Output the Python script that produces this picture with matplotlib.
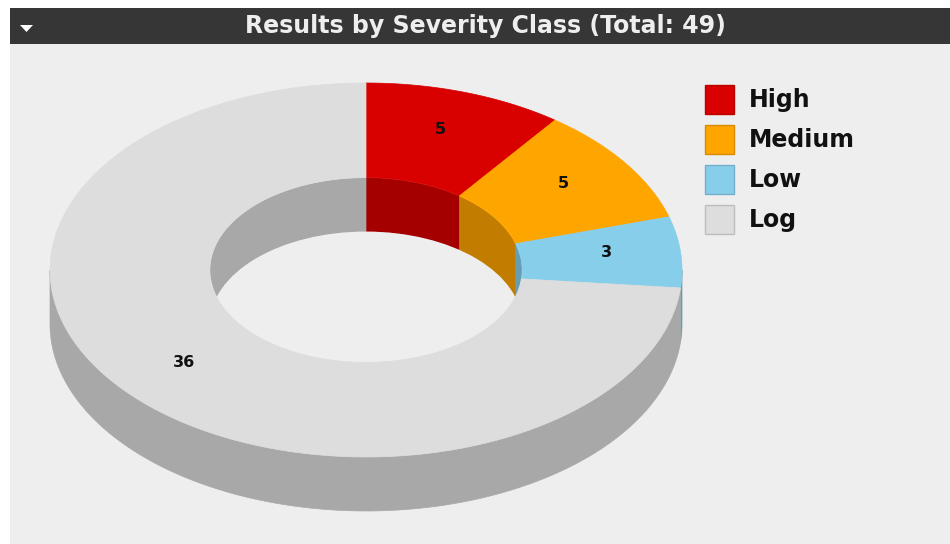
import numpy as np
import matplotlib
matplotlib.use('Agg')
import matplotlib.pyplot as plt
from matplotlib.patches import Polygon, Rectangle, Ellipse

# data
labels = ['High', 'Medium', 'Low', 'Log']
counts = [5, 5, 3, 36]
colors = ['#d90000', '#ffa500', '#87ceeb', '#dddddd']
title = 'Results by Severity Class (Total: 49)'

# geometry of the 3d donut (pixels)
cx, cy = 366, 270
rx, ry = 316, 187
depth = 54
rin = 0.494
bg = '#eeeeee'


def darker(c, f=0.76):
    r, g, b = matplotlib.colors.to_rgb(c)
    return (r * f, g * f, b * f)


def arc(a, b, r, dy=0, n=120):
    t = np.radians(np.linspace(a, b, n))
    return np.column_stack([cx + rx * r * np.cos(t), cy - ry * r * np.sin(t) + dy])


def overlap(a, b, intervals):
    res = []
    for lo, hi in intervals:
        l, h = max(a, lo), min(b, hi)
        if h > l:
            res.append((l, h))
    return res


fig = plt.figure(figsize=(9.5, 5.44), dpi=100)
ax = fig.add_axes([0, 0, 1, 1])
ax.set_xlim(0, 950)
ax.set_ylim(544, 0)
ax.axis('off')

ax.add_patch(Rectangle((10, 44), 940, 500, facecolor=bg, edgecolor='none'))

total = sum(counts)
start = 90.0
spans = []
for v in counts:
    end = start - 360.0 * v / total
    spans.append((end, start))
    start = end

inner_clip = Ellipse((cx, cy), 2 * rx * rin, 2 * ry * rin, transform=ax.transData)

for (a, b), c in zip(spans, colors):
    dc = darker(c)
    # outer side wall, front half
    for l, h in overlap(a, b, [(-180, 0)]):
        p = np.vstack([arc(l, h, 1), arc(h, l, 1, depth)])
        ax.add_patch(Polygon(p, closed=True, facecolor=dc, edgecolor=dc, lw=0.5))
    # inner wall, back half
    for l, h in overlap(a, b, [(0, 180), (-360, -180)]):
        p = np.vstack([arc(l, h, rin), arc(h, l, rin, depth)])
        wall = Polygon(p, closed=True, facecolor=dc, edgecolor=dc, lw=0.5)
        ax.add_patch(wall)
        wall.set_clip_path(inner_clip)

hole = Ellipse((cx, cy + depth), 2 * rx * rin, 2 * ry * rin, facecolor=bg, edgecolor='none')
ax.add_patch(hole)
hole.set_clip_path(inner_clip)

# top face
for (a, b), c, v in zip(spans, colors, counts):
    p = np.vstack([arc(a, b, 1), arc(b, a, rin)])
    ax.add_patch(Polygon(p, closed=True, facecolor=c, edgecolor=c, lw=0.5))
    m = np.radians((a + b) / 2)
    lr = 0.77
    ax.text(cx + rx * lr * np.cos(m) - 2, cy - ry * lr * np.sin(m) - 4, str(v),
            ha='center', va='center', fontsize=11.5, fontweight='bold', color='#111111')

# legend
for i, (lab, c) in enumerate(zip(labels, colors)):
    y = 85 + 40 * i
    ax.add_patch(Rectangle((705, y), 29, 29, facecolor=c, edgecolor=darker(c, 0.85), lw=1))
    ax.text(749, y + 15, lab, ha='left', va='center', fontsize=17,
            fontweight='bold', color='#111111')

# title bar
ax.add_patch(Rectangle((10, 8), 940, 36, facecolor='#363636', edgecolor='none'))
ax.add_patch(Polygon([[20, 25], [33, 25], [26.5, 32]], closed=True,
                     facecolor='white', edgecolor='none'))
ax.text(485, 26, title, ha='center', va='center', fontsize=17,
        fontweight='bold', color='#eeeeee')

fig.savefig('out.png', dpi=100, facecolor='white')
